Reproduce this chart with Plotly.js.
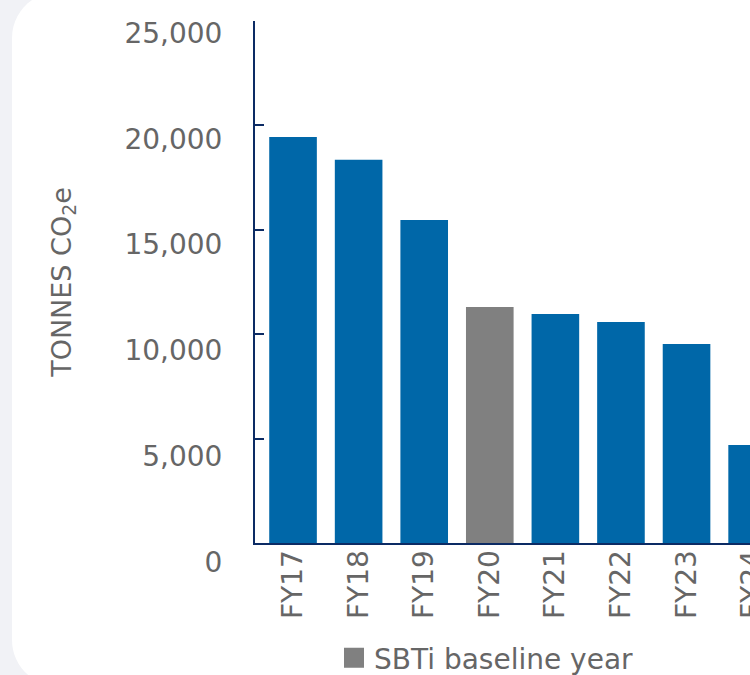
<!DOCTYPE html>
<html>
<head>
<meta charset="utf-8">
<script src="https://cdn.plot.ly/plotly-3.0.1.min.js"></script>
<style>
  html, body { margin: 0; padding: 0; overflow: hidden; background: #f1f2f6; }
  #chart { width: 800px; height: 675px; }
</style>
</head>
<body>
<div id="chart"></div>
<script>
// ---- data ----
const categories = ['FY17', 'FY18', 'FY19', 'FY20', 'FY21', 'FY22', 'FY23', 'FY24'];
const emissions = [19450, 18350, 15470, 11300, 10970, 10580, 9530, 4690];
const baselineYear = 'FY20';
const legendLabel = 'SBTi baseline year';
const yTickVals = [0, 5000, 10000, 15000, 20000, 25000];
const yTickText = ['0', '5,000', '10,000', '15,000', '20,000', '25,000'];
const yTitle = 'TONNES CO<sub>2</sub>e';

// ---- style / layout constants ----
const W = 800, H = 675;
const ml = 255, mr = 0, mt = 10, mb = 95;
const plotW = W - ml - mr, plotH = H - mt - mb;
const BLUE = '#0067a8', GREY = '#808080', NAVY = '#0c2b64', TXT = '#666666';
const FONT = 'DejaVu Sans';

function px(x) { return (x - ml) / plotW; }
function py(y) { return (H - mb - y) / plotH; }

// plot frame (pixels from top)
const axisTop = 21, axisBottom = 543;
// label centre pixels for first / last tick
const lab0 = 562, labTop = 33;
const s = (lab0 - labTop) / 25000;
const y2range = [-(H - mb - lab0) / s, 25000 + (labTop - mt) / s];

// card shape
function cardPath() {
  const x0 = 12, y0 = -8, x1 = 950, y1 = 686, r = 46, k = 0.5523 * r;
  const P = (x, y) => px(x).toFixed(5) + ',' + py(y).toFixed(5);
  return 'M' + P(x0 + r, y0) + ' L' + P(x1, y0) + ' L' + P(x1, y1) + ' L' + P(x0 + r, y1) +
    ' C' + P(x0 + r - k, y1) + ' ' + P(x0, y1 - r + k) + ' ' + P(x0, y1 - r) +
    ' L' + P(x0, y0 + r) +
    ' C' + P(x0, y0 + r - k) + ' ' + P(x0 + r - k, y0) + ' ' + P(x0 + r, y0) + ' Z';
}

const blueY = emissions.map((v, i) => categories[i] === baselineYear ? null : v);
const greyY = emissions.map((v, i) => categories[i] === baselineYear ? v : null);

const traces = [
  { type: 'bar', x: categories, y: blueY, marker: { color: BLUE }, showlegend: false, hoverinfo: 'x+y' },
  { type: 'bar', x: categories, y: greyY, marker: { color: GREY }, showlegend: false, hoverinfo: 'x+y' },
  { type: 'scatter', mode: 'markers', x: [null], y: [null], name: legendLabel,
    marker: { symbol: 'square', color: GREY, size: 16, line: { color: GREY, width: 4 } }, showlegend: true },
  { type: 'scatter', x: [], y: [], yaxis: 'y2', showlegend: false, hoverinfo: 'skip' }
];

const layout = {
  width: W, height: H,
  margin: { l: ml, r: mr, t: mt, b: mb, pad: 0 },
  paper_bgcolor: '#f1f2f6',
  plot_bgcolor: 'rgba(0,0,0,0)',
  font: { family: FONT, color: TXT, size: 28 },
  barmode: 'overlay',
  bargap: 0.274,
  showlegend: true,
  legend: {
    orientation: 'h', xref: 'container', yref: 'container',
    x: 334 / W, xanchor: 'left', y: (H - 658) / H, yanchor: 'middle',
    font: { family: FONT, size: 28, color: TXT }, bgcolor: 'rgba(0,0,0,0)'
  },
  xaxis: {
    type: 'category', anchor: 'y', domain: [0, 1],
    range: [-0.58, 7.73],
    showline: true, linecolor: NAVY, linewidth: 2,
    ticks: '', ticklabelstandoff: -6,
    tickangle: -90, tickfont: { family: FONT, size: 28, color: TXT },
    showgrid: false, zeroline: false, fixedrange: true
  },
  yaxis: {
    domain: [py(axisBottom), py(axisTop)],
    range: [0, 25000],
    showline: true, linecolor: NAVY, linewidth: 2,
    ticks: 'inside', ticklen: 9, tickwidth: 2, tickcolor: NAVY,
    tickvals: yTickVals, showticklabels: false,
    showgrid: false, zeroline: false, fixedrange: true,
    title: { text: yTitle, font: { family: FONT, size: 27, color: TXT }, standoff: 174 }
  },
  yaxis2: {
    domain: [0, 1], anchor: 'x', side: 'left',
    range: y2range,
    showline: false, showgrid: false, zeroline: false,
    ticks: 'outside', ticklen: 26, tickcolor: 'rgba(0,0,0,0)',
    tickvals: yTickVals, ticktext: yTickText,
    tickfont: { family: FONT, size: 28, color: TXT }, fixedrange: true
  },
  shapes: [
    { type: 'path', xref: 'paper', yref: 'paper', layer: 'below', path: cardPath(),
      fillcolor: '#ffffff', line: { width: 0 } }
  ]
};

Plotly.newPlot('chart', traces, layout, { displayModeBar: false, staticPlot: true });
</script>
</body>
</html>
